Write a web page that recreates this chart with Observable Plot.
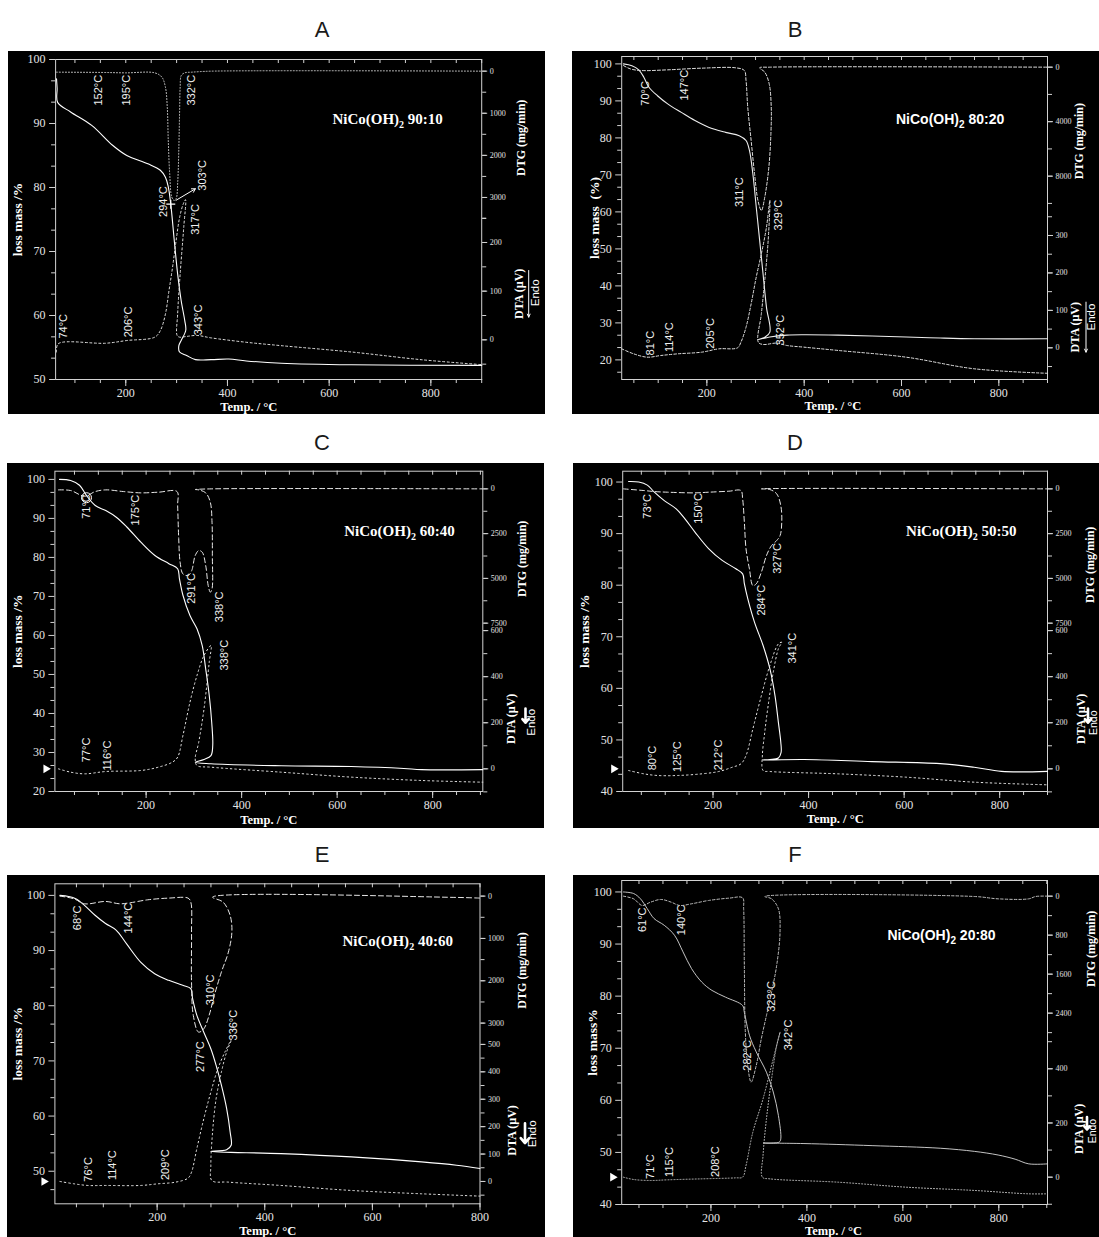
<!DOCTYPE html>
<html><head><meta charset="utf-8">
<script src="https://cdn.jsdelivr.net/npm/d3@7"></script>
<script src="https://cdn.jsdelivr.net/npm/@observablehq/plot@0.6"></script>
<style>
body{margin:0;background:#fff;width:1099px;height:1237px;position:relative;overflow:hidden;font-family:"Liberation Sans",Arial,sans-serif}
.title{position:absolute;font-size:22px;color:#1a1a1a;transform:translate(-50%,-50%);line-height:1}
.panel{position:absolute;background:#000;overflow:hidden}
.panel svg{position:absolute;left:0;top:0;max-width:none!important}
</style></head><body>
<script>
// ---------------- DATA (temperature °C, value) ----------------
const panelIds = ["A","B","C","D","E","F"];
const sampleNames = ["NiCo(OH)₂ 90:10","NiCo(OH)₂ 80:20","NiCo(OH)₂ 60:40","NiCo(OH)₂ 50:50","NiCo(OH)₂ 40:60","NiCo(OH)₂ 20:80"];
const lossLabels = ["loss mass /%","loss mass  (%)","loss mass /%","loss mass /%","loss mass /%","loss mass%"];

// TG (loss mass %), DTG (mg/min), DTA (µV)
const tgA = [[63.8,97.0],[65,95.5],[66,93.3],[91.5,91.8],[133,89.7],[174,86.6],[202,85.0],[243.5,83.7],[268,82.7],[278,81.6],[283.6,80.1],[288.5,77.4],[295.4,71.7],[302,66.5],[309,62.3],[316,59.2],[318,57.7],[309,56.1],[304.4,55.3],[305.8,54.3],[319.6,53.75],[337,53.1],[368,53.1],[402.5,53.2],[437,52.9],[506,52.55],[644,52.3],[900,52.2]];
const dtgA = [[63.8,24],[150,30],[200,40],[257,40],[271,143],[278,380],[281.6,855],[283.6,1650],[286.4,2440],[290.5,2990],[295,3070],[299,3030],[302.3,2600],[304.4,1805],[305.8,1013],[307,380],[309.2,103],[316,40],[330,24],[368,0],[900,0]];
const dtaA = [[63.8,-25],[67.3,-8],[160.6,-7],[202,-1.4],[257,5.5],[268,19],[278,53],[285,101],[292,149],[299,204],[306,252],[313,279],[317.5,288],[314,231],[307,136],[302,53],[301,9],[305.8,5.5],[319.6,7],[340,9],[368,4],[437,-5],[506,-12],[644,-25],[783,-41],[900,-51]];

const tgB = [[28.5,100],[46,99.5],[60,98.4],[70.5,96.4],[81,93.7],[98.5,91.4],[119.5,89.2],[147.5,86.9],[175.5,84.7],[203.5,82.9],[238.5,81.5],[266.5,80.6],[280.5,79.3],[287.5,76.6],[294.5,70.3],[301.5,61.3],[308.5,52.3],[315.5,43.2],[322.5,34.2],[329.5,27.5],[319,26.1],[305.7,25.5],[329.5,26.2],[364.5,26.7],[399.5,26.8],[469.5,26.7],[609.6,26.2],[679.6,25.9],[749.6,25.7],[900,25.7]];
const dtgB = [[28.5,-122],[42.5,122],[63.5,245],[119.5,196],[189.5,73],[259.5,49],[277,245],[280.5,979],[284,2936],[291,5382],[298,7829],[305,9786],[312,10520],[319,9541],[327.4,7340],[331.6,4893],[332.3,2936],[328.1,1223],[319,367],[308.5,49],[329.5,0],[900,0]];
const dtaB = [[25,-2.7],[49.5,-16],[77.5,-25],[105.5,-20.5],[140.5,-16],[189.5,-11.6],[224.5,-2.7],[263,0],[270,15],[280.5,55],[291,117.5],[301.5,189],[312,251],[322.5,322],[329.5,394],[326,287],[319,180],[312,91],[305.7,15],[315.5,9],[343.5,12.5],[364.5,6.2],[399.5,1.8],[469.5,-7],[609.6,-25],[749.6,-56],[900,-68]];

const tgC = [[18.6,100],[42,99.7],[60.5,98.5],[75,95.9],[93.5,93.3],[115.5,92],[137.6,90.3],[159.6,87.8],[189,83.9],[218.4,80.5],[247.7,78.4],[266,77.1],[269.8,74.5],[277.1,70.3],[291.8,65.1],[306.5,61.7],[317.5,57.4],[324.8,51.4],[332.2,44.6],[337.3,37.8],[339.5,31.8],[335.8,29.2],[321.2,28.2],[302.8,27.5],[335.8,27.1],[482.7,26.6],[629.6,26.4],[739.8,25.9],[776.5,25.6],[905,25.6]];
const dtgC = [[16.4,56],[42,93],[71.5,410],[93.5,149],[115.5,56],[152.3,149],[189,223],[225.7,186],[264.6,149],[266,931],[268.3,2792],[271.2,4095],[277.1,4747],[288.1,4840],[295.5,4561],[302.8,3723],[310.2,3444],[317.5,3537],[324.8,4281],[330,5398],[334.4,5771],[338,5585],[338.7,3723],[338,1862],[334.4,745],[324.8,223],[310.2,56],[302.8,37],[335.9,0],[905,0]];
const dtaC = [[16.4,0],[42,-14.5],[71.5,-21.7],[115.5,-11.6],[189,-7.2],[225.7,7.2],[255,29],[266,50.6],[277.1,144.7],[291.8,289],[306.5,405],[321.2,492],[335.9,535],[332.2,463],[321.2,260],[310.2,116],[302.8,43],[306.5,14.5],[335.9,7.2],[482.7,-14.5],[629.6,-36],[776.5,-50.6],[905,-58]];

const tgD = [[23.3,100.1],[44.6,100],[62.5,99.4],[76.7,98.1],[98,96.4],[123,94.8],[140.9,92.9],[162.2,90.3],[190.7,87.1],[219.2,84.8],[247.7,83.2],[262,82.2],[265.6,80.3],[272.7,77.4],[286.9,72.8],[304.8,68.3],[319,63.8],[329.7,58.6],[336.8,53.4],[341.8,49.6],[342.5,47.6],[336.8,46.5],[319,46.2],[303.3,46.1],[390.3,46.2],[532.8,45.8],[675.3,45.4],[746.6,44.7],[803.6,43.9],[900,43.9]];
const dtgD = [[12.6,0],[55.3,93],[76.7,149],[105.2,186],[162.2,223],[190.7,186],[233.5,130],[258.4,93],[262,558],[265.6,1862],[269.1,3351],[276.2,4468],[283.4,5398],[290.5,5305],[301.2,4654],[311.9,3723],[322.6,3165],[333.3,2885],[340.4,2606],[343.9,1862],[341.8,931],[333.3,279],[319,37],[301.2,0],[900,0]];
const dtaD = [[23.3,-7.2],[55.3,-21.7],[83.8,-28.9],[126.6,-28.9],[176.5,-21.7],[212.1,-11.6],[240.6,7.2],[258.4,21.7],[269.1,57.9],[283.4,173.6],[297.6,289.3],[319,448.5],[336.8,542.5],[343.9,549.7],[336.8,520.8],[326.1,419.5],[315.4,274.8],[308.3,159.1],[303.3,57.9],[304.8,-7.2],[319,-11.6],[461.5,-21.7],[604,-36.2],[746.6,-57.9],[900,-69.4]];

const tgE = [[19.3,100],[35.7,99.8],[48.7,99.4],[65,98.2],[84.6,96.4],[104.1,94.9],[123.7,93.7],[143.3,91.2],[169.3,87.9],[195.4,85.8],[221.5,84.6],[247.6,83.7],[262.6,83.1],[265.9,81.3],[273.7,78.3],[286.7,75.2],[299.8,72.2],[309.6,69.2],[319.4,65.6],[329.1,61.4],[335.7,57.1],[337.6,54.7],[329.1,53.9],[299.8,53.6],[430.2,53.2],[560.7,52.6],[691.1,51.7],[756.3,51.1],[800,50.5]];
const dtgE = [[19.3,0],[45.4,63],[65,181],[104.1,126],[130.2,181],[149.8,157],[182.4,87],[221.5,47],[257.4,47],[262.6,142],[263.9,850],[263.9,2031],[267.2,2819],[277,3213],[286.7,3134],[296.5,2819],[306.3,2346],[319.4,1795],[332.4,1323],[338.9,850],[335.7,457],[322.6,142],[303,24],[756.3,31],[800,47]];
const dtaE = [[19.3,0],[45.4,-8.5],[71.5,-14.6],[104.1,-14.6],[169.3,-14.6],[202,-8.5],[234.6,-2.4],[257.4,12.2],[263.9,34],[273.7,119],[286.7,229],[299.8,326],[312.8,411],[325.9,472],[338.9,521],[329.1,472],[319.4,399],[309.6,302],[303,180],[299.8,58],[301.7,3.6],[332.4,-2.4],[430.2,-14.6],[560.7,-32.8],[691.1,-45],[800,-53.5]];

const tgF = [[17.5,100],[38.8,99.7],[53,98.7],[67.2,96.8],[81.4,94.9],[102.7,93.6],[124,91.7],[141.8,88.5],[159.5,85.3],[180.8,82.7],[202.1,81.1],[230.5,79.8],[266,78.2],[269.6,76.9],[280.2,72.5],[294.4,69.3],[315.7,65.4],[329.9,61.6],[340.6,57.1],[345.6,52.6],[342.7,52.0],[329.9,51.8],[308.6,51.8],[393.9,51.7],[535.9,51.3],[678,50.8],[749,50.2],[798.6,49.5],[834,48.7],[862.5,47.8],[901.5,47.8]];
const dtgF = [[17.5,0],[38.8,55],[56.5,191],[74.3,123],[95.6,68],[117,123],[134.7,191],[159.5,157],[195,89],[237.6,41],[266,34],[268.2,260],[269.6,1422],[271.7,2790],[276.7,3474],[283.8,3815],[294.4,3474],[305,2926],[315.7,2448],[326.4,1969],[337,1422],[344,738],[340.6,260],[326.4,55],[312.2,7],[749,7],[798.6,55],[862.5,55],[876.7,7],[901.5,0]];
const dtaF = [[17.5,0],[38.8,-8.6],[74.3,-12.3],[109.8,-9.8],[180.8,-6.2],[251.8,-2.5],[266,0],[273.1,43],[287.3,166],[308.6,289],[329.9,437],[344.1,535],[337,486],[326.4,363],[315.7,215],[308.6,80],[307.2,0],[322.8,-6.2],[464.9,-18.5],[606.9,-37],[748.9,-49],[862.5,-61.5],[901.5,-61.5]];

// peak annotations: [temperature position, loss-mass position, text]
const labelsA = [[146.8,92.8,"152°C"],[202,92.8,"195°C"],[330,92.8,"332°C"],[350.7,79.5,"303°C"],[274.6,75.4,"294°C"],[336.9,72.6,"317°C"],[77.6,56.4,"74°C"],[205.5,56.6,"206°C"],[343.8,56.9,"343°C"]];
const labelsB = [[74,88.7,"70°C"],[154.5,90.1,"147°C"],[266.5,61.3,"311°C"],[347,55,"329°C"],[84.5,21.2,"81°C"],[123,22.1,"114°C"],[207,23,"205°C"],[350.5,23.9,"352°C"]];
const labelsC = [[75.2,89.9,"71°C"],[178,88.2,"175°C"],[295.5,68.1,"291°C"],[354,63.4,"338°C"],[365,51,"338°C"],[75.2,27.5,"77°C"],[119.2,25.4,"116°C"]];
const labelsD = [[62.5,92.9,"73°C"],[169.4,91.9,"150°C"],[334.7,82.2,"327°C"],[301.2,74.1,"284°C"],[365.3,64.8,"341°C"],[73.2,44.1,"80°C"],[126.6,43.8,"125°C"],[212.1,44.1,"212°C"]];
const labelsE = [[52,93.7,"68°C"],[146.5,93.1,"144°C"],[299.8,80.1,"310°C"],[280.2,68,"277°C"],[342.2,73.7,"336°C"],[71.5,48.1,"76°C"],[117.2,48.4,"114°C"],[215,48.4,"209°C"]];
const labelsF = [[56.6,92.3,"61°C"],[138.2,91.7,"140°C"],[326.4,77,"323°C"],[276.7,65.7,"282°C"],[361.9,69.6,"342°C"],[74.3,44.9,"71°C"],[113.4,45.3,"115°C"],[209.2,45.3,"208°C"]];

// DTG / DTA right-axis tick values
const dtgTickSpec = [[500,3500,1000],[2000,10000,4000],[1250,7500,2500],[1250,7500,2500],[500,3000,1000],[400,2800,800]];
const dtaTickSpec = [[-50,250,50,100],[-50,350,50,100],[-100,600,100,200],[-100,600,100,200],[-50,500,50,100],[-100,500,100,200]];

// ---------------- LAYOUT ----------------
const serif = "'Liberation Serif','Times New Roman',serif";
const sans = "'Liberation Sans',Arial,sans-serif";
const AX = "#d2d2d2";

const layout = [
 {box:[8,51,537,363], m:[8,63.8,35,47.1], x:[62,900], y:[50,100], dtg:[7324,-277], dta:[-81.5,576], title:[322,30],
  lossDx:37.5, temp:[442,27.5], dtgLab:[39.8,1583], dtaLab:[37.8,94.5], endo:[54,96.6,11.5], arrow:[47,142.5,46.6,1], tri:null,
  nameAt:[606.4,90.7], nameFont:serif, dtgDash:"1,2", dtaDash:"2,2.5", dtgStroke:"#c8c8c8", dtaStroke:"#e0e0e0", tgStroke:"#fff"},
 {box:[572,51,527,363], m:[5,52,35,49.2], x:[25,900], y:[14.7,102], dtg:[22924,-783], dta:[-84.6,778], title:[795,30],
  lossDx:27, temp:[459,26], dtgLab:[32,5431], dtaLab:[28,55], endo:[44,82,11.5], arrow:[38.5,122,-11.6,1], tri:null,
  nameAt:[588.6,85.1], nameFont:sans, dtgDash:"3,2", dtaDash:"2.5,2", dtgStroke:"#e0e0e0", dtaStroke:"#e0e0e0", tgStroke:"#eee"},
 {box:[7,463,537,365], m:[7.7,61.7,37,47.4], x:[9,905], y:[20,102.1], dtg:[16902,-987], dta:[-98.4,1292], title:[322,443],
  lossDx:37.6, temp:[457,28], dtgLab:[39.3,3909], dtaLab:[28,217], endo:[49,202,11.5], arrow:[42.7,262,200,2.6], tri:-9,
  nameAt:[614.9,86.7], nameFont:serif, dtgDash:"5,3", dtaDash:"1.5,3", dtgStroke:"#e8e8e8", dtaStroke:"#e8e8e8", tgStroke:"#fff"},
 {box:[573,463,526,365], m:[7.7,52,37,49.2], x:[11,900], y:[40,102.1], dtg:[16902,-987], dta:[-98.4,1292], title:[795,443],
  lossDx:38.3, temp:[455.8,27], dtgLab:[42.5,4244], dtaLab:[34,217], endo:[46,200,10.5], arrow:[40.5,262,200,2.6], tri:-9,
  nameAt:[604,90.4], nameFont:serif, dtgDash:"5,3", dtaDash:"1.5,3", dtgStroke:"#e8e8e8", dtaStroke:"#e8e8e8", tgStroke:"#fff"},
 {box:[7,875,538,362], m:[8.3,65.5,33.7,47.4], x:[10,800], y:[44.1,102.1], dtg:[7268,-291], dta:[-81.5,1086], title:[322,855],
  lossDx:37, temp:[405.4,27], dtgLab:[42,1756], dtaLab:[32.5,186], endo:[52,174,11.5], arrow:[45,212,140,2.6], tri:-11,
  nameAt:[544.4,91.7], nameFont:serif, dtgDash:"5,3", dtaDash:"1.5,3", dtgStroke:"#e8e8e8", dtaStroke:"#e8e8e8", tgStroke:"#fff"},
 {box:[573,875,526,362], m:[5,52,33,48.2], x:[14,901.5], y:[40,102.2], dtg:[6325,-321], dta:[-100.9,1095], title:[795,855],
  lossDx:29, temp:[455.6,26], dtgLab:[44,1080], dtaLab:[32,178], endo:[45.5,170,10.5], arrow:[39.5,222,176,2.6], tri:-9,
  nameAt:[567.8,91.7], nameFont:sans, dtgDash:"2.5,2", dtaDash:"1,2", dtgStroke:"#bdbdbd", dtaStroke:"#bdbdbd", tgStroke:"#d8d8d8"}
];
const tgs = [tgA,tgB,tgC,tgD,tgE,tgF], dtgs=[dtgA,dtgB,dtgC,dtgD,dtgE,dtgF], dtas=[dtaA,dtaB,dtaC,dtaD,dtaE,dtaF];
const labelSets = [labelsA,labelsB,labelsC,labelsD,labelsE,labelsF];
const arrowA = [298.8,78.0,336.9,79.8];
const crossA = [288.5,77.4];
const circleC = [75.2,95.3];

function steps(a,b,s){const o=[];for(let v=a;v<=b+1e-9;v+=s)o.push(+v.toFixed(6));return o;}

function buildPanel(i){
  const L = layout[i];
  const [bx,by,W,H] = L.box;
  const [mT,mR,mB,mL] = L.m;
  const fw = W-mL-mR, fh = H-mT-mB;
  const xOut = dx => L.x[1] + dx*(L.x[1]-L.x[0])/fw;

  const t = document.createElement("div");
  t.className="title"; t.textContent = panelIds[i];
  t.style.left = L.title[0]+"px"; t.style.top = L.title[1]+"px";
  document.body.appendChild(t);
  const div = document.createElement("div");
  div.className="panel";
  Object.assign(div.style,{left:bx+"px",top:by+"px",width:W+"px",height:H+"px"});
  document.body.appendChild(div);

  const common = {width:W,height:H,marginTop:mT,marginRight:mR,marginBottom:mB,marginLeft:mL,
    x:{domain:L.x,label:null}};
  const overlayX = {domain:L.x,label:null,axis:null};
  const xMinor = steps(Math.ceil(L.x[0]/50)*50, L.x[1], 50);
  const xMajor = xMinor.filter(v=>v%200===0);
  const yMajor = steps(Math.ceil(L.y[0]/10)*10, Math.floor(L.y[1]/10)*10, 10);
  const yMinor = [];
  for(let v=Math.floor(L.y[0]/10)*10; v<L.y[1]; v+=10){
    [v+10/3, v+20/3].forEach(u=>{ if(u>=L.y[0] && u<=L.y[1]) yMinor.push(u); });
  }

  const extra = [];
  if(i===0){
    extra.push(Plot.arrow([arrowA],{x1:d=>d[0],y1:d=>d[1],x2:d=>d[2],y2:d=>d[3],stroke:"#fff",strokeWidth:1,headLength:6}));
    extra.push(Plot.dot([crossA],{x:d=>d[0],y:d=>d[1],symbol:"plus",r:3,stroke:"#fff",strokeWidth:1.2}));
  }
  if(i===2){
    extra.push(Plot.dot([circleC],{x:d=>d[0],y:d=>d[1],r:5,stroke:"#fff",fill:"none",strokeWidth:1}));
  }

  const base = Plot.plot({...common,
    y:{domain:L.y,label:null},
    style:{background:"#000",color:AX,fontFamily:serif,fontSize:"12px"},
    marks:[
      Plot.frame({stroke:AX}),
      Plot.axisX(xMinor,{anchor:"bottom",tickSize:4,fill:"none",label:null}),
      Plot.axisX(xMajor,{anchor:"bottom",tickSize:7,tickPadding:2,fontSize:12,fill:"#e4e4e4",tickFormat:d=>String(d),label:null}),
      Plot.tickX(xMinor,{x:d=>d,stroke:AX,insetBottom:fh-4}),
      Plot.axisY(yMinor,{anchor:"left",tickSize:4,fill:"none",label:null}),
      Plot.axisY(yMajor,{anchor:"left",tickSize:6,tickPadding:4,fontSize:12,fill:"#e4e4e4",tickFormat:d=>String(d),label:null}),
      Plot.line(tgs[i],{x:d=>d[0],y:d=>d[1],stroke:L.tgStroke,strokeWidth:i===5?0.9:1.1,curve:"catmull-rom"}),
      Plot.text(labelSets[i],{x:d=>d[0],y:d=>d[1],text:d=>d[2],rotate:-90,textAnchor:"start",fill:"#f0f0f0",fontFamily:sans,fontSize:11}),
      Plot.text([sampleNames[i]],{x:()=>L.nameAt[0],y:()=>L.nameAt[1],text:d=>d,textAnchor:"start",fill:"#fff",fontFamily:L.nameFont,fontWeight:"bold",fontSize:L.nameFont===sans?14:15}),
      Plot.text([lossLabels[i]],{text:d=>d,frameAnchor:"left",dx:-L.lossDx,rotate:-90,textAnchor:"middle",lineAnchor:"middle",fill:"#fff",fontWeight:"bold",fontSize:13.5,fontFamily:serif}),
      Plot.text(["Temp. / °C"],{text:d=>d,x:()=>L.temp[0],frameAnchor:"bottom",dy:L.temp[1],textAnchor:"middle",lineAnchor:"middle",fill:"#fff",fontWeight:"bold",fontSize:12.5,fontFamily:serif}),
      ...extra
    ]});

  const [gMin,gMax,gMaj] = dtgTickSpec[i];
  const dtgMinor = steps(0,gMax,gMin), dtgMajor = steps(0,gMax,gMaj);
  const dtgPlot = Plot.plot({...common, x:overlayX,
    y:{domain:L.dtg,label:null},
    style:{background:"transparent",color:AX,fontFamily:serif,fontSize:"8px"},
    marks:[
      Plot.axisY(dtgMinor,{anchor:"right",tickSize:4,fill:"none",label:null}),
      Plot.axisY(dtgMajor,{anchor:"right",tickSize:5,tickPadding:3,fontSize:8,fill:"#e0e0e0",tickFormat:d=>String(d),label:null}),
      Plot.line(dtgs[i],{x:d=>d[0],y:d=>d[1],stroke:L.dtgStroke,strokeWidth:1,strokeDasharray:L.dtgDash,curve:"catmull-rom"}),
      Plot.text(["DTG (mg/min)"],{text:d=>d,y:()=>L.dtgLab[1],frameAnchor:"right",dx:L.dtgLab[0],rotate:-90,textAnchor:"middle",lineAnchor:"middle",fill:"#fff",fontWeight:"bold",fontSize:12,fontFamily:serif})
    ]});

  const [aLo,aHi,aMin,aMaj] = dtaTickSpec[i];
  const dtaMinor = steps(aLo,aHi,aMin), dtaMajor = steps(0,aHi,aMaj);
  const aw = L.arrow;
  const dtaMarks = [
      Plot.axisY(dtaMinor,{anchor:"right",tickSize:4,fill:"none",label:null}),
      Plot.axisY(dtaMajor,{anchor:"right",tickSize:5,tickPadding:3,fontSize:8,fill:"#e0e0e0",tickFormat:d=>String(d),label:null}),
      Plot.line(dtas[i],{x:d=>d[0],y:d=>d[1],stroke:L.dtaStroke,strokeWidth:1,strokeDasharray:L.dtaDash,curve:"catmull-rom"}),
      Plot.text(["DTA (µV)"],{text:d=>d,y:()=>L.dtaLab[1],frameAnchor:"right",dx:L.dtaLab[0],rotate:-90,textAnchor:"middle",lineAnchor:"middle",fill:"#fff",fontWeight:"bold",fontSize:12,fontFamily:serif}),
      Plot.text(["Endo"],{text:d=>d,y:()=>L.endo[1],frameAnchor:"right",dx:L.endo[0],rotate:-90,textAnchor:"middle",lineAnchor:"middle",fill:"#fff",fontSize:L.endo[2],fontFamily:sans}),
      Plot.arrow([aw],{x1:()=>xOut(aw[0]),x2:()=>xOut(aw[0]),y1:d=>d[1],y2:d=>d[2],stroke:"#fff",strokeWidth:aw[3],headLength:aw[3]>1?6:5,headAngle:aw[3]>1?80:50})
  ];
  if(L.tri!==null) dtaMarks.push(Plot.dot([0],{y:d=>d,frameAnchor:"left",dx:L.tri,symbol:"triangle",r:3.2,fill:"#fff",rotate:90}));
  const dtaPlot = Plot.plot({...common, x:overlayX,
    y:{domain:L.dta,label:null},
    style:{background:"transparent",color:AX,fontFamily:serif,fontSize:"8px"},
    marks:dtaMarks});

  div.appendChild(base); div.appendChild(dtgPlot); div.appendChild(dtaPlot);

  // subscript 2 in the sample name
  base.querySelectorAll("text").forEach(tx=>{
    if(tx.textContent.includes("₂")){
      const parts = tx.textContent.split("₂");
      const ns="http://www.w3.org/2000/svg";
      tx.textContent="";
      const s1=document.createElementNS(ns,"tspan"); s1.textContent=parts[0];
      const s2=document.createElementNS(ns,"tspan"); s2.textContent="2"; s2.setAttribute("dy","4"); s2.setAttribute("font-size","10");
      const s3=document.createElementNS(ns,"tspan"); s3.textContent=parts[1]; s3.setAttribute("dy","-4");
      tx.appendChild(s1); tx.appendChild(s2); tx.appendChild(s3);
    }
  });
}
for(let i=0;i<6;i++) buildPanel(i);
</script>
</body></html>
